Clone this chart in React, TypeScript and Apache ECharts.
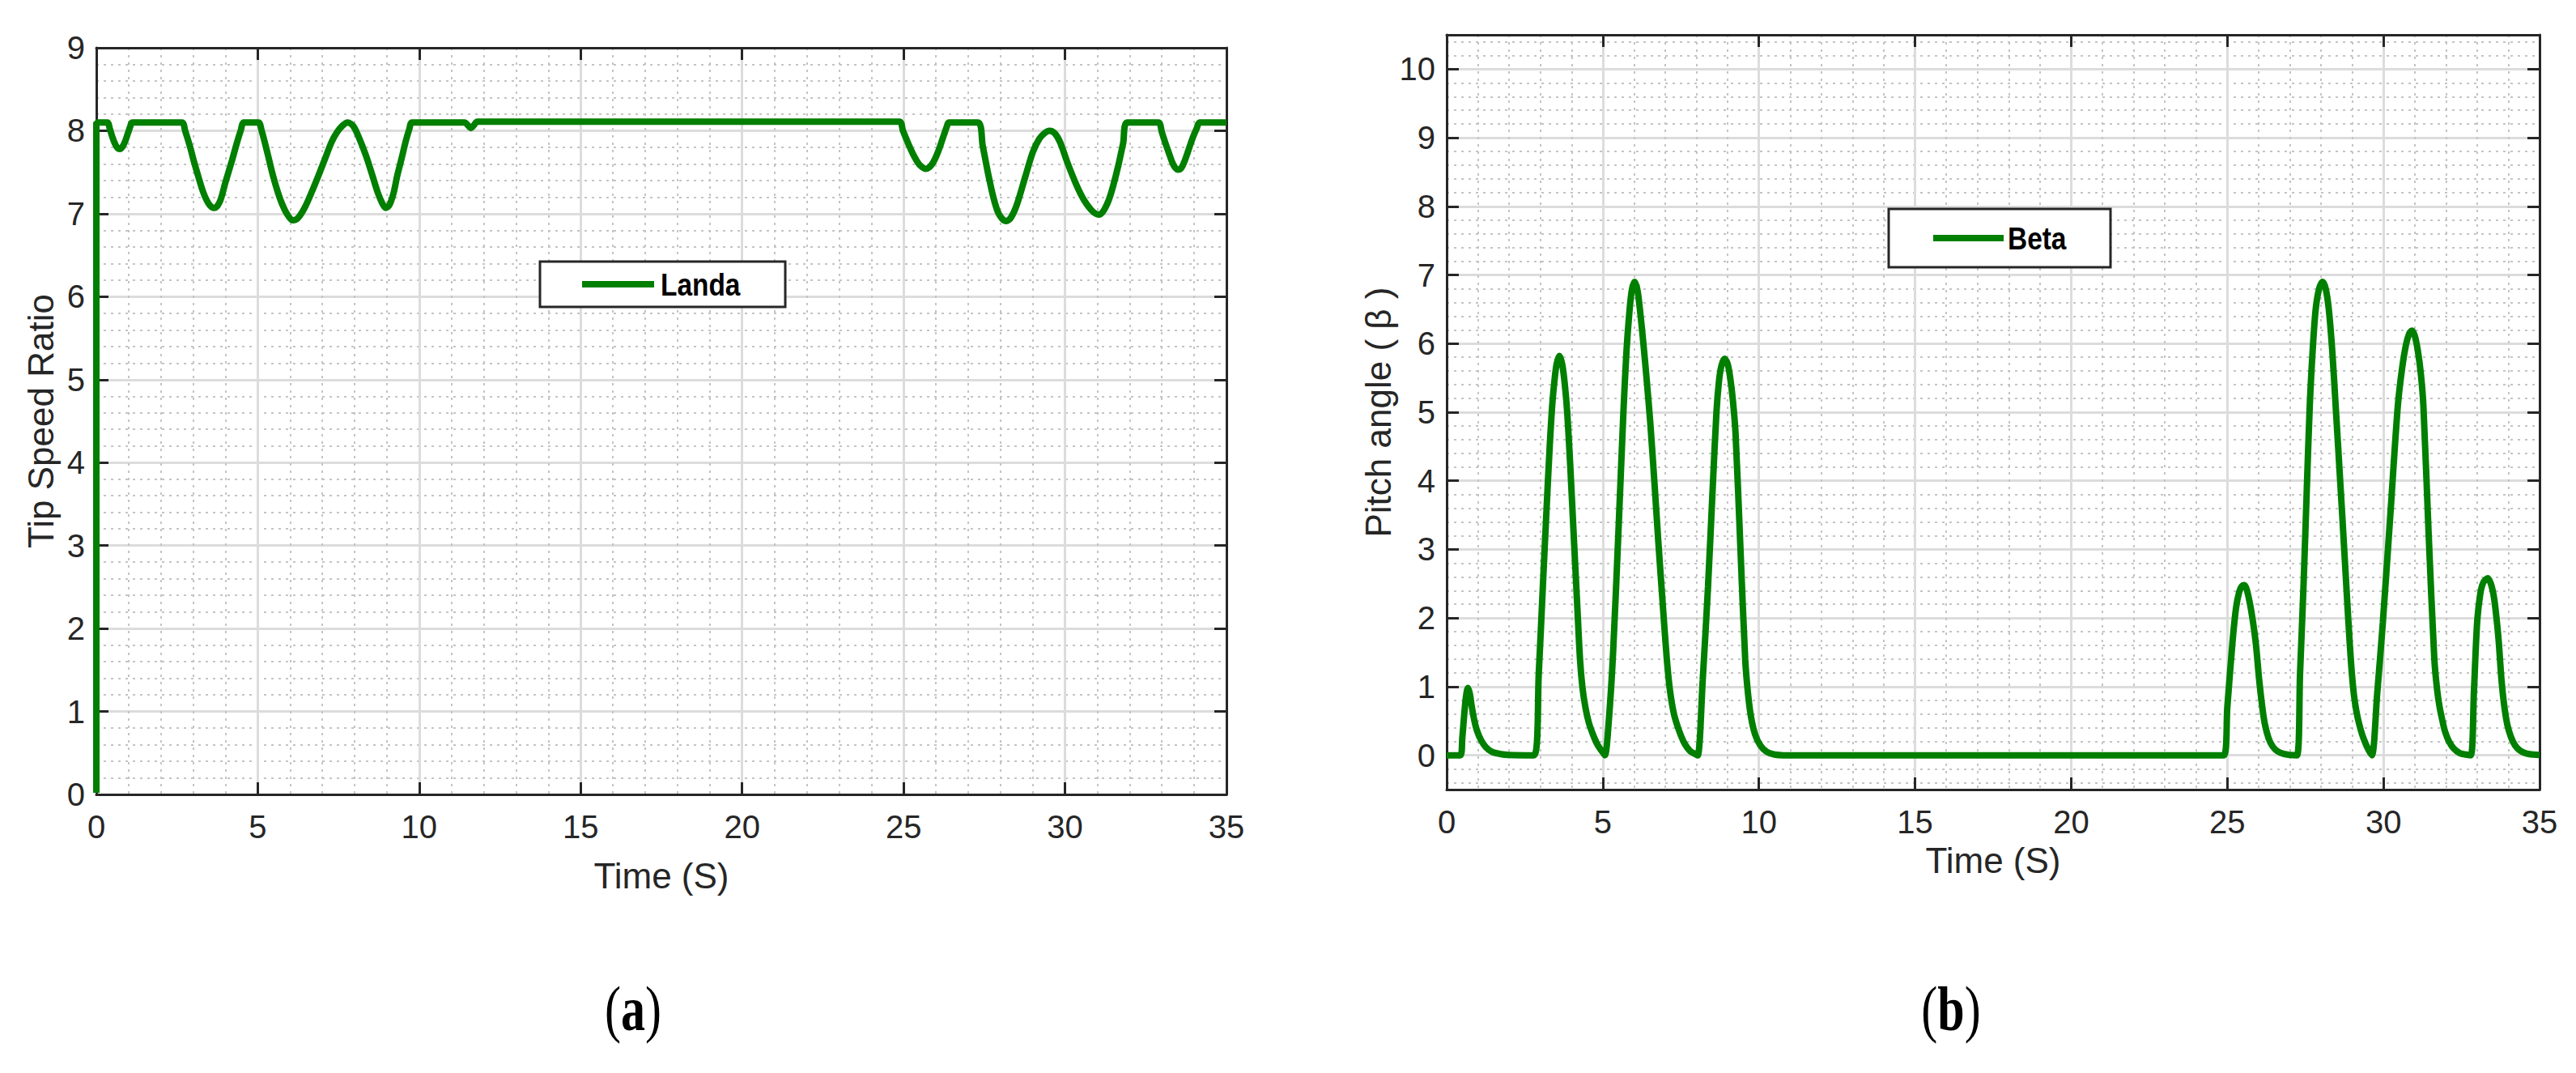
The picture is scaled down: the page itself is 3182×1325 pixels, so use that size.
import React, { useEffect, useRef } from 'react';
import * as echarts from 'echarts';

// ---- Data ----
const landaTime = [
  0, 0, 0.34, 0.42, 0.5, 0.58, 0.66, 0.73, 0.8, 0.88, 0.97, 1.05, 1.11,
  2.65, 2.75, 2.9, 3.03, 3.18, 3.3, 3.42, 3.52, 3.64, 3.74, 3.85, 4.0, 4.2, 4.35, 4.47, 4.57,
  5.02, 5.12, 5.3, 5.47, 5.62, 5.75, 5.9, 6.08, 6.25, 6.45, 6.68, 6.88, 7.08, 7.28, 7.45, 7.62, 7.78, 7.95, 8.12, 8.35, 8.55, 8.72, 8.85, 8.96, 9.07, 9.2, 9.32, 9.45, 9.58, 9.7, 9.77,
  11.4, 11.52, 11.6, 11.68, 11.8,
  24.87, 24.98, 25.15, 25.33, 25.47, 25.58, 25.68, 25.8, 25.92, 26.02, 26.12, 26.25, 26.34, 26.4,
  27.3, 27.45, 27.63, 27.78, 27.92, 28.05, 28.18, 28.32, 28.5, 28.78, 29.0, 29.2, 29.36, 29.52, 29.68, 29.85, 30.07, 30.35, 30.58, 30.8, 30.95, 31.07, 31.2, 31.35, 31.48, 31.65, 31.8, 31.93,
  32.89, 33.0, 33.1, 33.2, 33.33, 33.42, 33.5, 33.6, 33.7, 33.8, 33.95, 34.08, 34.17, 35,
];
const landaValue = [
  0.02, 8.1, 8.1, 8.02, 7.92, 7.84, 7.79, 7.78, 7.8, 7.86, 7.96, 8.05, 8.1,
  8.1, 8.0, 7.81, 7.62, 7.42, 7.27, 7.16, 7.1, 7.07, 7.09, 7.17, 7.38, 7.64, 7.85, 8.0, 8.1,
  8.1, 8.0, 7.73, 7.46, 7.26, 7.12, 7.0, 6.92, 6.95, 7.07, 7.27, 7.46, 7.66, 7.86, 7.98, 8.06, 8.1, 8.06, 7.93, 7.7, 7.46, 7.25, 7.13, 7.07, 7.1, 7.24, 7.46, 7.66, 7.87, 8.03, 8.1,
  8.1, 8.06, 8.03, 8.06, 8.11,
  8.11, 8.0, 7.84, 7.69, 7.6, 7.56, 7.54, 7.56, 7.62, 7.7, 7.8, 7.95, 8.05, 8.1,
  8.1, 7.82, 7.46, 7.2, 7.02, 6.94, 6.91, 6.95, 7.1, 7.46, 7.74, 7.9, 7.97, 8.0, 7.97, 7.86, 7.62, 7.35, 7.17, 7.05, 7.0, 6.99, 7.04, 7.16, 7.32, 7.58, 7.85, 8.1,
  8.1, 7.98, 7.86, 7.75, 7.61, 7.55, 7.53, 7.55, 7.63, 7.74, 7.91, 8.03, 8.1, 8.1,
];

const betaTime = [
  0, 0.44, 0.5, 0.56, 0.62, 0.68, 0.74, 0.8, 0.88, 0.97, 1.1, 1.25, 1.45, 1.7, 2.0, 2.8,
  2.95, 3.08, 3.2, 3.3, 3.38, 3.45, 3.52, 3.61, 3.7, 3.78, 3.86, 3.96, 4.08, 4.18, 4.27, 4.35, 4.45, 4.55, 4.67, 4.8, 4.92, 5.02, 5.07,
  5.2, 5.33, 5.5, 5.66, 5.76, 5.85, 5.93, 6.02, 6.11, 6.2, 6.3, 6.4, 6.52, 6.65, 6.78, 6.92, 7.05, 7.15, 7.28, 7.45, 7.62, 7.8, 7.95, 8.04,
  8.2, 8.37, 8.52, 8.64, 8.72, 8.8, 8.9, 9.0, 9.08, 9.16, 9.25, 9.4, 9.56, 9.65, 9.75, 9.88, 10.05, 10.25, 10.5, 10.8, 24.89,
  25.0, 25.17, 25.28, 25.38, 25.46, 25.54, 25.62, 25.72, 25.82, 25.92, 26.02, 26.12, 26.2, 26.32, 26.45, 26.6, 26.8, 27.0, 27.23,
  27.33, 27.44, 27.54, 27.64, 27.74, 27.83, 27.94, 28.05, 28.15, 28.25, 28.36, 28.47, 28.68, 28.88, 28.97, 29.05, 29.13, 29.22, 29.32, 29.42, 29.52, 29.63,
  29.8, 29.98, 30.22, 30.46, 30.6, 30.72, 30.82, 30.91, 31.0, 31.1, 31.2, 31.28, 31.45, 31.63, 31.72, 31.8, 31.9, 31.97, 32.1, 32.25, 32.45, 32.65, 32.8,
  32.9, 33.0, 33.1, 33.2, 33.34, 33.44, 33.54, 33.62, 33.69, 33.78, 33.86, 33.96, 34.08, 34.22, 34.37, 34.55, 34.8, 35,
];
const betaValue = [
  0, 0, 0.25, 0.58, 0.86, 0.98, 0.9, 0.72, 0.52, 0.36, 0.22, 0.12, 0.05, 0.02, 0.005, 0,
  1.2, 2.46, 3.6, 4.5, 5.1, 5.45, 5.7, 5.82, 5.7, 5.42, 5.0, 4.2, 3.1, 2.2, 1.4, 0.98, 0.68, 0.48, 0.32, 0.18, 0.09, 0.03, 0,
  0.55, 1.5, 3.25, 5.0, 5.9, 6.45, 6.78, 6.9, 6.78, 6.45, 6.0, 5.5, 4.85, 4.0, 3.1, 2.2, 1.4, 0.95, 0.6, 0.35, 0.17, 0.06, 0.02, 0,
  1.1, 2.46, 3.9, 5.0, 5.45, 5.68, 5.78, 5.7, 5.5, 5.2, 4.7, 3.1, 1.4, 0.9, 0.55, 0.3, 0.14, 0.05, 0.01, 0, 0,
  0.7, 1.67, 2.15, 2.38, 2.46, 2.48, 2.42, 2.22, 1.95, 1.6, 1.1, 0.7, 0.46, 0.25, 0.13, 0.06, 0.02, 0.005, 0,
  1.2, 2.46, 3.8, 5.09, 5.95, 6.5, 6.8, 6.9, 6.8, 6.5, 5.9, 5.09, 3.5, 1.93, 1.3, 0.9, 0.65, 0.46, 0.3, 0.18, 0.08, 0,
  0.9, 1.93, 3.5, 5.09, 5.65, 5.98, 6.14, 6.19, 6.12, 5.9, 5.55, 5.09, 3.2, 1.4, 0.95, 0.7, 0.48, 0.35, 0.2, 0.1, 0.03, 0.01, 0,
  0.95, 1.93, 2.35, 2.52, 2.58, 2.5, 2.3, 2.0, 1.67, 1.1, 0.75, 0.46, 0.27, 0.14, 0.07, 0.03, 0.01, 0.005,
];

const betaYTicks = [0, 1, 2, 3, 4, 5, 6, 7, 8, 9, 10];
const betaMinorY: number[] = [];
for (let k = -2; k <= 52; k++) if (k % 5 !== 0) betaMinorY.push(+(k * 0.2).toFixed(1));

const GREEN = '#007f00';
const INK = '#262626';
const FONT = "'Liberation Sans', Arial, Helvetica, sans-serif";

const majorSplit = { show: true, lineStyle: { color: '#dcdcdc', width: 3 } };
const minorSplit = { show: true, lineStyle: { color: '#c4c4c4', width: 2, type: [3, 6] } };
const axisLineStyle = { show: true, onZero: false, lineStyle: { color: INK, width: 3 } };
const tickInside = { show: true, inside: true, length: 15, lineStyle: { color: INK, width: 3 } };
const labelStyle = { color: INK, fontSize: 40, fontFamily: FONT };
const nameStyle = { color: INK, fontSize: 44, fontFamily: FONT };

export default function App() {
  const ref = useRef<HTMLDivElement>(null);
  useEffect(() => {
    const chart = echarts.init(ref.current as HTMLDivElement, null, { renderer: 'svg' });
    const option: any = {
      animation: false,
      backgroundColor: '#ffffff',
      grid: [
        { left: 119, top: 59, width: 1396, height: 922 },
        { left: 1787, top: 43, width: 1350, height: 932 },
      ],
      xAxis: [
        {
          type: 'value', gridIndex: 0, position: 'bottom', min: 0, max: 35, interval: 5,
          axisLine: axisLineStyle, axisTick: tickInside,
          axisLabel: { ...labelStyle, margin: 20 },
          splitLine: majorSplit, minorTick: { show: false, splitNumber: 5 }, minorSplitLine: minorSplit,
          name: 'Time (S)', nameLocation: 'middle', nameGap: 78, nameTextStyle: nameStyle,
        },
        {
          type: 'value', gridIndex: 0, position: 'top', min: 0, max: 35, interval: 5,
          axisLine: axisLineStyle, axisTick: tickInside, axisLabel: { show: false }, splitLine: { show: false },
        },
        {
          type: 'value', gridIndex: 1, position: 'bottom', min: 0, max: 35, interval: 5,
          axisLine: axisLineStyle, axisTick: tickInside,
          axisLabel: { ...labelStyle, margin: 20 },
          splitLine: majorSplit, minorTick: { show: false, splitNumber: 5 }, minorSplitLine: minorSplit,
          name: 'Time (S)', nameLocation: 'middle', nameGap: 65, nameTextStyle: nameStyle,
        },
        {
          type: 'value', gridIndex: 1, position: 'top', min: 0, max: 35, interval: 5,
          axisLine: axisLineStyle, axisTick: tickInside, axisLabel: { show: false }, splitLine: { show: false },
        },
      ],
      yAxis: [
        {
          type: 'value', gridIndex: 0, position: 'left', min: 0, max: 9, interval: 1,
          axisLine: axisLineStyle, axisTick: tickInside,
          axisLabel: { ...labelStyle, margin: 14 },
          splitLine: majorSplit, minorTick: { show: false, splitNumber: 5 }, minorSplitLine: minorSplit,
          name: 'Tip Speed Ratio', nameLocation: 'middle', nameGap: 47, nameTextStyle: nameStyle,
        },
        {
          type: 'value', gridIndex: 0, position: 'right', min: 0, max: 9, interval: 1,
          axisLine: axisLineStyle, axisTick: tickInside, axisLabel: { show: false }, splitLine: { show: false },
        },
        {
          type: 'value', gridIndex: 1, position: 'left', min: -0.5, max: 10.5,
          axisLine: axisLineStyle,
          axisTick: { ...tickInside, customValues: betaYTicks },
          axisLabel: { ...labelStyle, margin: 14, customValues: betaYTicks },
          splitLine: majorSplit,
          name: 'Pitch angle ( β )', nameLocation: 'middle', nameGap: 62, nameTextStyle: nameStyle,
        },
        {
          type: 'value', gridIndex: 1, position: 'left', min: -0.5, max: 10.5,
          axisLine: { show: false }, axisTick: { show: false, customValues: betaMinorY },
          axisLabel: { show: false }, splitLine: minorSplit,
        },
        {
          type: 'value', gridIndex: 1, position: 'right', min: -0.5, max: 10.5,
          axisLine: axisLineStyle, axisTick: { ...tickInside, customValues: betaYTicks },
          axisLabel: { show: false }, splitLine: { show: false },
        },
      ],
      series: [
        {
          name: 'Landa', type: 'line', xAxisIndex: 0, yAxisIndex: 0,
          data: landaTime.map((t, i) => [t, landaValue[i]]),
          showSymbol: false, smooth: 0.3, z: 5,
          lineStyle: { color: GREEN, width: 8 }, itemStyle: { color: GREEN },
        },
        {
          name: 'Beta', type: 'line', xAxisIndex: 2, yAxisIndex: 2,
          data: betaTime.map((t, i) => [t, betaValue[i]]),
          showSymbol: false, smooth: 0.3, z: 5,
          lineStyle: { color: GREEN, width: 8 }, itemStyle: { color: GREEN },
        },
      ],
      graphic: [
        { type: 'rect', z: 100, shape: { x: 667, y: 323, width: 303, height: 56 }, style: { fill: '#ffffff', stroke: INK, lineWidth: 3 } },
        { type: 'line', z: 101, shape: { x1: 719, y1: 351, x2: 808, y2: 351 }, style: { stroke: GREEN, lineWidth: 8 } },
        { type: 'text', z: 101, x: 816, y: 352, scaleX: 0.88, style: { text: 'Landa', fill: '#000000', font: `bold 38px ${FONT}`, align: 'left', verticalAlign: 'middle' } },
        { type: 'rect', z: 100, shape: { x: 2333, y: 258, width: 274, height: 72 }, style: { fill: '#ffffff', stroke: INK, lineWidth: 3 } },
        { type: 'line', z: 101, shape: { x1: 2388, y1: 294, x2: 2475, y2: 294 }, style: { stroke: GREEN, lineWidth: 8 } },
        { type: 'text', z: 101, x: 2480, y: 295, scaleX: 0.88, style: { text: 'Beta', fill: '#000000', font: `bold 38px ${FONT}`, align: 'left', verticalAlign: 'middle' } },
        {
          type: 'text', z: 101, x: 782, y: 1246, scaleY: 1.3,
          style: {
            text: '{p|(}{l|a}{p|)}', align: 'center', verticalAlign: 'middle',
            rich: { p: { font: "60px 'Liberation Serif', serif", fill: '#000' }, l: { font: "bold 60px 'Liberation Serif', serif", fill: '#000' } },
          },
        },
        {
          type: 'text', z: 101, x: 2410, y: 1246, scaleY: 1.3,
          style: {
            text: '{p|(}{l|b}{p|)}', align: 'center', verticalAlign: 'middle',
            rich: { p: { font: "60px 'Liberation Serif', serif", fill: '#000' }, l: { font: "bold 60px 'Liberation Serif', serif", fill: '#000' } },
          },
        },
      ],
    };
    chart.setOption(option);
    return () => chart.dispose();
  }, []);
  return (
    <div
      ref={ref}
      style={{ position: 'fixed', left: 0, top: 0, width: 3182, height: 1325, background: '#ffffff' }}
    />
  );
}
